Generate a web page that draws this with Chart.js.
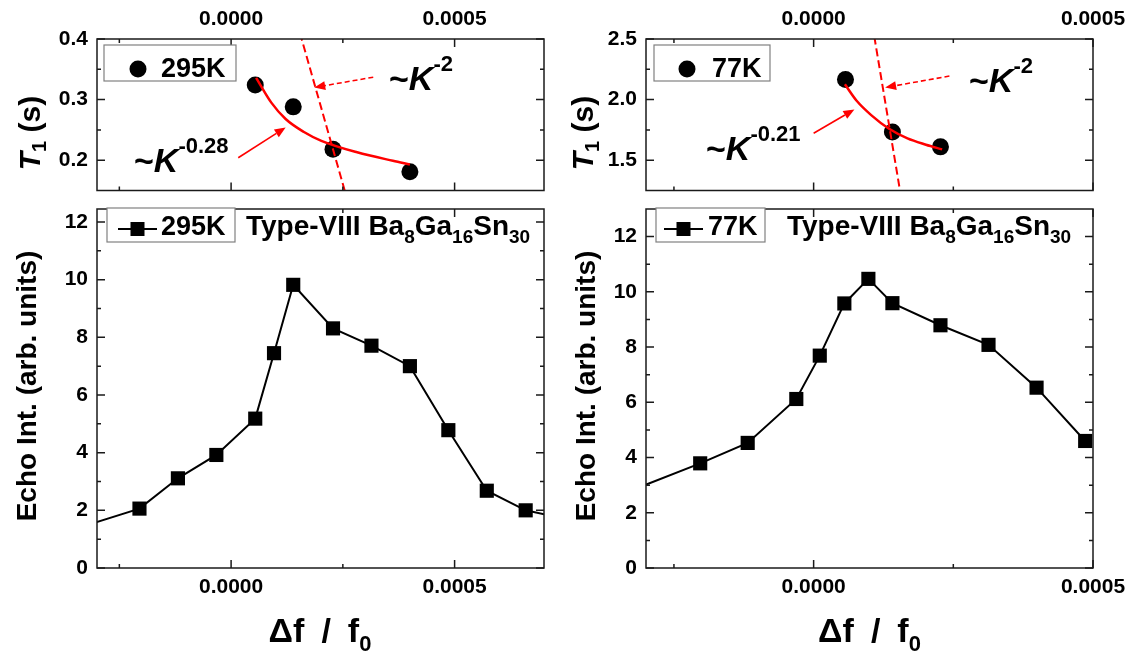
<!DOCTYPE html>
<html>
<head>
<meta charset="utf-8">
<title>Type-VIII Ba8Ga16Sn30</title>
<script src="https://cdn.jsdelivr.net/npm/chart.js@4.4.1/dist/chart.umd.min.js"></script>
<style>
  html, body { margin: 0; background: #fff; }
  #fig { position: relative; width: 1133px; height: 661px; overflow: hidden; }
  #fig canvas { position: absolute; }
</style>
</head>
<body>
<div id="fig">
  <canvas id="t1Room" width="566" height="199" style="left:0px;top:0px"></canvas>
  <canvas id="echoRoom" width="566" height="462" style="left:0px;top:199px"></canvas>
  <canvas id="t1Cold" width="567" height="199" style="left:566px;top:0px"></canvas>
  <canvas id="echoCold" width="567" height="462" style="left:566px;top:199px"></canvas>
</div>
<script>
// ---- 295 K ----
// echo intensity vs df/f0 (first and last points sit outside the frame)
const echoDf295 = [-3.77e-4, -2.05e-4, -1.19e-4, -3.3e-5, 5.4e-5, 9.6e-5, 1.39e-4, 2.28e-4, 3.14e-4, 4.0e-4, 4.86e-4, 5.72e-4, 6.59e-4, 7.45e-4];
const echo295 = [1.22, 2.06, 3.11, 3.92, 5.18, 7.45, 9.82, 8.31, 7.71, 7.0, 4.78, 2.68, 2.0, 1.72];
// T1 points and the two guide curves
const t1Df295 = [5.4e-5, 1.39e-4, 2.28e-4, 4.0e-4];
const t1_295 = [0.324, 0.288, 0.218, 0.181];
const fitDf295 = [5.6e-5, 9.0e-5, 1.22e-4, 1.62e-4, 2.02e-4, 2.82e-4, 3.62e-4, 4.0e-4];
const fit295 = [0.336, 0.295, 0.268, 0.247, 0.232, 0.213, 0.199, 0.193];
const steepDf295 = [1.54e-4, 2.58e-4];
const steep295 = [0.41, 0.14];
const arrowSteep295 = [[3.18e-4, 0.337], [1.86e-4, 0.320]];
const arrowFit295 = [[1.6e-5, 0.204], [1.22e-4, 0.254]];

// ---- 77 K ----
const echoDf77 = [-3.75e-4, -2.03e-4, -1.18e-4, -3.1e-5, 1.1e-5, 5.5e-5, 9.8e-5, 1.41e-4, 2.27e-4, 3.13e-4, 3.99e-4, 4.86e-4];
const echo77 = [2.42, 3.79, 4.53, 6.12, 7.69, 9.58, 10.47, 9.59, 8.79, 8.08, 6.53, 4.6];
const t1Df77 = [5.7e-5, 1.41e-4, 2.27e-4];
const t1_77 = [2.165, 1.733, 1.61];
const fitDf77 = [5.6e-5, 7.7e-5, 1.03e-4, 1.35e-4, 1.68e-4, 2.01e-4, 2.3e-4];
const fit77 = [2.126, 1.99, 1.872, 1.759, 1.68, 1.628, 1.589];
const steepDf77 = [1.086e-4, 1.549e-4];
const steep77 = [2.52, 1.24];
const arrowSteep77 = [[2.43e-4, 2.194], [1.28e-4, 2.10]];
const arrowFit77 = [[0, 1.722], [7.3e-5, 1.919]];

// ---- ticks ----
const dfMajor = [0, 0.0005];
const dfMinor = [-0.00025, 0.00025];
const t1RoomMajor = [0.2, 0.3, 0.4];
const t1RoomMinor = [0.25, 0.35];
const t1ColdMajor = [1.5, 2.0, 2.5];
const t1ColdMinor = [1.75, 2.25];
const echoMajor = [0, 2, 4, 6, 8, 10, 12];
const echoMinor = [1, 3, 5, 7, 9, 11];

const RED = '#ff0000';
const FONT = 'Arial, "Liberation Sans", sans-serif';
const TICK_FONT = { family: FONT, size: 21, weight: 'bold' };

function pts(xs, ys) { return xs.map((x, i) => ({ x, y: ys[i] })); }
function fnt(size, italic) { return (italic ? 'italic ' : '') + 'bold ' + size + 'px ' + FONT; }

function ticksFrom(major, minor) {
  return s => { s.ticks = major.concat(minor).sort((a, b) => a - b).map(v => ({ value: v })); };
}
function labelFrom(major, fmt) {
  return v => major.some(m => Math.abs(m - v) < 1e-12) ? fmt(v) : '';
}

function xScale(min, max, position, size) {
  return {
    type: 'linear', position, min, max,
    grid: { display: false, drawTicks: false }, border: { display: false },
    afterBuildTicks: ticksFrom(dfMajor, dfMinor),
    afterFit: s => { s.height = size; s.paddingLeft = 0; s.paddingRight = 0; },
    ticks: { autoSkip: false, maxRotation: 0, padding: 7, color: '#000', font: TICK_FONT,
             callback: labelFrom(dfMajor, v => v.toFixed(4)) }
  };
}
function yScale(min, max, major, minor, fmt, size) {
  return {
    type: 'linear', position: 'left', min, max,
    grid: { display: false, drawTicks: false }, border: { display: false },
    afterBuildTicks: ticksFrom(major, minor),
    afterFit: s => { s.width = size; s.paddingTop = 0; s.paddingBottom = 0; },
    ticks: { autoSkip: false, padding: 9, color: '#000', font: TICK_FONT,
             callback: labelFrom(major, fmt) }
  };
}

// box around the plot area plus inward tick marks on all four sides
const frame = {
  id: 'frame',
  afterDatasetsDraw(chart) {
    const { ctx, chartArea: a, scales: { x, y } } = chart;
    ctx.save();
    ctx.strokeStyle = '#1a1a1a';
    ctx.lineWidth = 1.5;
    ctx.strokeRect(a.left, a.top, a.right - a.left, a.bottom - a.top);
    ctx.beginPath();
    for (const t of x.ticks) {
      const p = x.getPixelForValue(t.value);
      const len = t.label ? 8 : 4;
      ctx.moveTo(p, a.top); ctx.lineTo(p, a.top + len);
      ctx.moveTo(p, a.bottom); ctx.lineTo(p, a.bottom - len);
    }
    for (const t of y.ticks) {
      const p = y.getPixelForValue(t.value);
      const len = t.label ? 8 : 4;
      ctx.moveTo(a.left, p); ctx.lineTo(a.left + len, p);
      ctx.moveTo(a.right, p); ctx.lineTo(a.right - len, p);
    }
    ctx.stroke();
    ctx.restore();
  }
};

// text made of runs: {t, size, italic, dy}
function rich(ctx, x, y, parts, align) {
  let w = 0;
  for (const p of parts) { ctx.font = fnt(p.size, p.italic); w += ctx.measureText(p.t).width; }
  let cx = align === 'center' ? x - w / 2 : x;
  ctx.fillStyle = '#000';
  ctx.textBaseline = 'alphabetic';
  ctx.textAlign = 'left';
  for (const p of parts) {
    ctx.font = fnt(p.size, p.italic);
    ctx.fillText(p.t, cx, y + (p.dy || 0));
    cx += ctx.measureText(p.t).width;
  }
}
function rotated(ctx, x, y, parts) {
  ctx.save();
  ctx.translate(x, y);
  ctx.rotate(-Math.PI / 2);
  rich(ctx, 0, 0, parts, 'center');
  ctx.restore();
}
function arrow(chart, seg, dashed) {
  const { ctx, scales: { x, y } } = chart;
  const x0 = x.getPixelForValue(seg[0][0]), y0 = y.getPixelForValue(seg[0][1]);
  const x1 = x.getPixelForValue(seg[1][0]), y1 = y.getPixelForValue(seg[1][1]);
  const ang = Math.atan2(y1 - y0, x1 - x0), c = Math.cos(ang), s = Math.sin(ang);
  const hl = 11, hw = 4.5;
  ctx.save();
  ctx.strokeStyle = RED; ctx.fillStyle = RED; ctx.lineWidth = 1.6;
  ctx.setLineDash(dashed ? [5, 3] : []);
  ctx.beginPath(); ctx.moveTo(x0, y0); ctx.lineTo(x1 - hl * c, y1 - hl * s); ctx.stroke();
  ctx.setLineDash([]);
  ctx.beginPath();
  ctx.moveTo(x1, y1);
  ctx.lineTo(x1 - hl * c + hw * s, y1 - hl * s - hw * c);
  ctx.lineTo(x1 - hl * c - hw * s, y1 - hl * s + hw * c);
  ctx.closePath(); ctx.fill();
  ctx.restore();
}
function legendBox(ctx, x, y, w, h) {
  ctx.save();
  ctx.fillStyle = '#fff'; ctx.fillRect(x, y, w, h);
  ctx.strokeStyle = '#808080'; ctx.lineWidth = 1.2; ctx.strokeRect(x, y, w, h);
  ctx.restore();
}
function dot(ctx, x, y, r) {
  ctx.beginPath(); ctx.arc(x, y, r, 0, Math.PI * 2); ctx.fillStyle = '#000'; ctx.fill();
}
function lineSquare(ctx, x0, x1, y, half) {
  ctx.save();
  ctx.strokeStyle = '#000'; ctx.lineWidth = 2;
  ctx.beginPath(); ctx.moveTo(x0, y); ctx.lineTo(x1, y); ctx.stroke();
  ctx.fillStyle = '#000'; ctx.fillRect((x0 + x1) / 2 - half, y - half, half * 2, half * 2);
  ctx.restore();
}
function power(exp) {
  return [{ t: '~', size: 34 }, { t: 'K', size: 34, italic: true }, { t: exp, size: 22, dy: -19 }];
}
const T1_TITLE = [{ t: 'T', size: 30, italic: true }, { t: '1', size: 20, dy: 6 }, { t: ' (s)', size: 30 }];
const ECHO_TITLE = [{ t: 'Echo Int. (arb. units)', size: 28 }];
const DF_TITLE = [{ t: '\u0394f', size: 34 }, { t: '\u2002/\u2002', size: 34 }, { t: 'f', size: 34 }, { t: '0', size: 22, dy: 9 }];
const SAMPLE = [
  { t: 'Type-VIII Ba', size: 28 }, { t: '8', size: 19, dy: 8 },
  { t: 'Ga', size: 28 }, { t: '16', size: 19, dy: 8 },
  { t: 'Sn', size: 28 }, { t: '30', size: 19, dy: 8 }
];

function deco(draw) {
  return { id: 'deco', afterDraw(chart) { chart.ctx.save(); draw(chart, chart.ctx); chart.ctx.restore(); } };
}

function baseOptions(pad, scales) {
  return {
    responsive: false, animation: false, devicePixelRatio: 1,
    layout: { padding: pad },
    plugins: { legend: { display: false }, tooltip: { enabled: false } },
    scales
  };
}

const markerSet = { showLine: false, pointStyle: 'circle', pointRadius: 8.5, pointBackgroundColor: '#000', pointBorderColor: '#000', pointBorderWidth: 0 };
const fitSet = { showLine: true, borderColor: RED, borderWidth: 2.5, pointRadius: 0, cubicInterpolationMode: 'monotone' };
const steepSet = { showLine: true, borderColor: RED, borderWidth: 2, borderDash: [8, 4], pointRadius: 0 };
const echoSet = { showLine: true, borderColor: '#000', borderWidth: 2, pointStyle: 'rect', pointRadius: 10, pointBackgroundColor: '#000', pointBorderWidth: 0 };

// T1 at 295 K
new Chart(document.getElementById('t1Room'), {
  type: 'scatter',
  data: { datasets: [
    Object.assign({ label: 'fit', data: pts(fitDf295, fit295) }, fitSet),
    Object.assign({ label: 'K^-2', data: pts(steepDf295, steep295) }, steepSet),
    Object.assign({ label: '295K', data: pts(t1Df295, t1_295) }, markerSet)
  ] },
  options: baseOptions({ left: 0, right: 22, top: 0, bottom: 2 }, {
    x: xScale(-0.0003, 0.0007, 'top', 39),
    y: yScale(0.15, 0.4, t1RoomMajor, t1RoomMinor, v => v.toFixed(1), 97)
  }),
  plugins: [frame, deco((chart, ctx) => {
    arrow(chart, arrowSteep295, true);
    arrow(chart, arrowFit295, false);
    legendBox(ctx, 104, 45, 132, 36);
    dot(ctx, 138, 69, 8.5);
    rich(ctx, 161, 77, [{ t: '295K', size: 27 }]);
    rich(ctx, 389, 90, power('-2'));
    rich(ctx, 134, 172, power('-0.28'));
    rotated(ctx, 40, 133, T1_TITLE);
  })]
});

// echo intensity at 295 K
new Chart(document.getElementById('echoRoom'), {
  type: 'scatter',
  data: { datasets: [Object.assign({ label: '295K', data: pts(echoDf295, echo295) }, echoSet)] },
  options: baseOptions({ left: 0, right: 22, top: 2, bottom: 0 }, {
    x: xScale(-0.0003, 0.0007, 'bottom', 93),
    y: yScale(0, 12.45, echoMajor, echoMinor, v => String(v), 97)
  }),
  plugins: [frame, deco((chart, ctx) => {
    legendBox(ctx, 107, 9, 128, 34);
    lineSquare(ctx, 118, 157, 30, 7);
    rich(ctx, 161, 36, [{ t: '295K', size: 27 }]);
    rich(ctx, 246, 36, SAMPLE);
    rotated(ctx, 36, 187, ECHO_TITLE);
    rich(ctx, 320, 443, DF_TITLE, 'center');
  })]
});

// T1 at 77 K
new Chart(document.getElementById('t1Cold'), {
  type: 'scatter',
  data: { datasets: [
    Object.assign({ label: 'fit', data: pts(fitDf77, fit77) }, fitSet),
    Object.assign({ label: 'K^-2', data: pts(steepDf77, steep77) }, steepSet),
    Object.assign({ label: '77K', data: pts(t1Df77, t1_77) }, markerSet)
  ] },
  options: baseOptions({ left: 0, right: 40, top: 0, bottom: 2 }, {
    x: xScale(-0.0003, 0.0005, 'top', 39),
    y: yScale(1.25, 2.5, t1ColdMajor, t1ColdMinor, v => v.toFixed(1), 80)
  }),
  plugins: [frame, deco((chart, ctx) => {
    arrow(chart, arrowSteep77, true);
    arrow(chart, arrowFit77, false);
    legendBox(ctx, 88, 45, 116, 36);
    dot(ctx, 121, 69, 8.5);
    rich(ctx, 146, 77, [{ t: '77K', size: 27 }]);
    rich(ctx, 403, 92, power('-2'));
    rich(ctx, 140, 160, power('-0.21'));
    rotated(ctx, 27, 133, T1_TITLE);
  })]
});

// echo intensity at 77 K
new Chart(document.getElementById('echoCold'), {
  type: 'scatter',
  data: { datasets: [Object.assign({ label: '77K', data: pts(echoDf77, echo77) }, echoSet)] },
  options: baseOptions({ left: 0, right: 40, top: 2, bottom: 0 }, {
    x: xScale(-0.0003, 0.0005, 'bottom', 93),
    y: yScale(0, 13, echoMajor, echoMinor, v => String(v), 80)
  }),
  plugins: [frame, deco((chart, ctx) => {
    legendBox(ctx, 90, 9, 109, 34);
    lineSquare(ctx, 98, 137, 30, 7);
    rich(ctx, 142, 36, [{ t: '77K', size: 27 }]);
    rich(ctx, 221, 36, SAMPLE);
    rotated(ctx, 29, 187, ECHO_TITLE);
    rich(ctx, 303.5, 443, DF_TITLE, 'center');
  })]
});
</script>
</body>
</html>
